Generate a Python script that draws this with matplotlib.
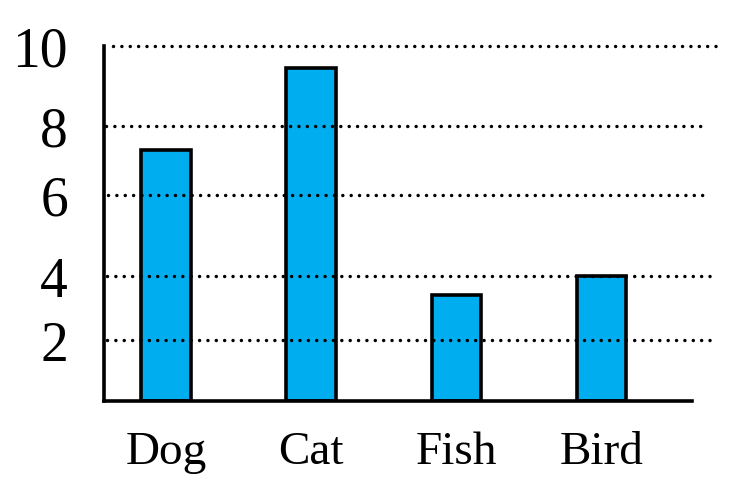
import numpy as np
import matplotlib
matplotlib.use("Agg")
import matplotlib.pyplot as plt

# data
animals = ["Dog", "Cat", "Fish", "Bird"]
counts = [7.3, 9.45, 3.4, 4.0]
y_ticks = [0, 2, 4, 6, 8, 10]
# the drawn gridlines are not evenly spaced, so the axis follows them
tick_heights = [0, 61, 125, 206, 275, 355]


def forward(v):
    return np.interp(v, y_ticks, tick_heights)


def inverse(p):
    return np.interp(p, tick_heights, y_ticks)


plt.rcParams['font.family'] = ['Liberation Serif', 'DejaVu Serif']

fig = plt.figure(figsize=(7.39, 5.02), dpi=100)
ax = fig.add_axes([104 / 739, 100 / 502, 588 / 739, 355 / 502])
ax.set_yscale('function', functions=(forward, inverse))

x = np.arange(len(animals))
ax.bar(x, counts, width=0.34, color='#00AEEF', edgecolor='black',
       linewidth=2.6, zorder=2)

# dotted gridlines, each hand-drawn to a slightly different length
grid_ext = {2: (0.005, 1.03), 4: (0.005, 1.03), 6: (0.007, 1.03),
            8: (0.003, 1.023), 10: (0.016, 1.045)}
for yv, (x0, x1) in grid_ext.items():
    ax.axhline(yv, x0, x1, color='black', linestyle=(0, (0.01, 2.4)),
               linewidth=2.5, dash_capstyle='round', clip_on=False, zorder=3)

ax.set_xlim(-0.427, 3.623)
ax.set_ylim(0, 10)
ax.set_xticks(x)
ax.set_xticklabels(animals, fontsize=34)
ax.set_yticks(y_ticks[1:])
ax.set_yticklabels([str(t) for t in y_ticks[1:]], fontsize=40)
ax.tick_params(axis='both', length=0)
ax.tick_params(axis='y', pad=26)
ax.tick_params(axis='x', pad=21)

for s in ['top', 'right']:
    ax.spines[s].set_visible(False)
for s in ['left', 'bottom']:
    ax.spines[s].set_linewidth(2.6)

fig.savefig("out.png", dpi=100)
